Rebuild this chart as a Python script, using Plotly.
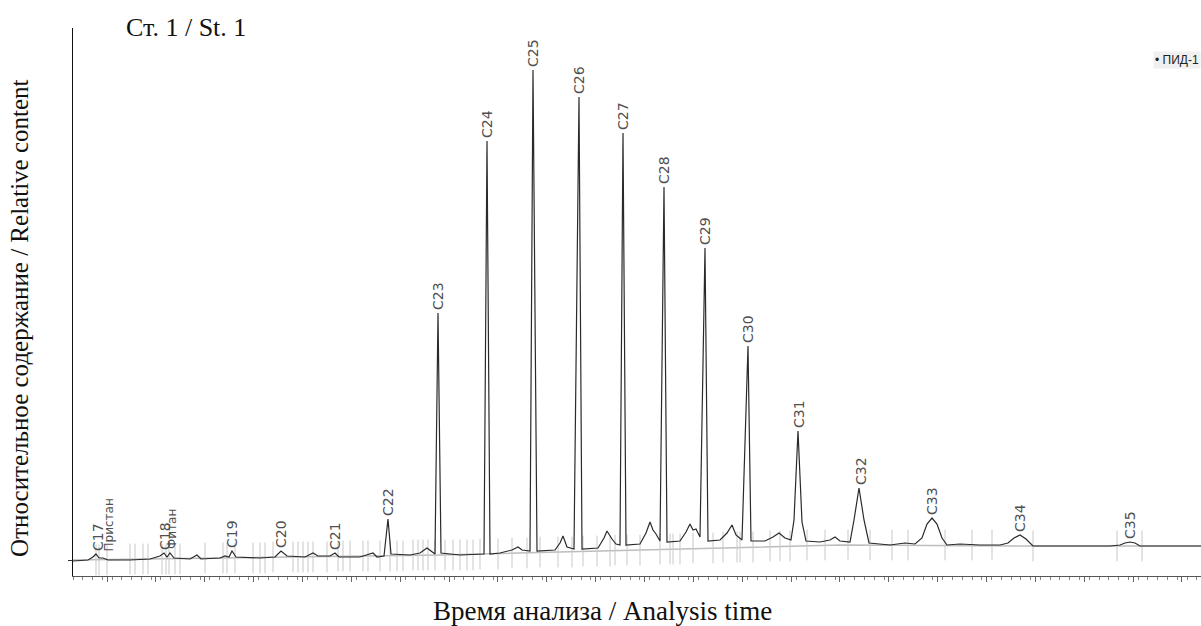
import plotly.graph_objects as go

# ---- chromatogram signal (time units, relative signal) ----
trace_t = [0, 15, 20, 23, 26, 30, 35, 57, 77, 87, 91, 94, 97, 101, 117, 124, 128, 147, 152, 156,
           159, 163, 187, 202, 208, 214, 232, 240, 245, 257, 262, 266, 287, 295, 300, 304, 311, 315,
           318, 337, 347, 354, 359, 362, 365, 368, 387, 402, 411, 414, 417, 427, 439, 445, 449, 457,
           460, 464, 482, 487, 490, 494, 501, 506, 509, 525, 531, 534, 537, 539, 543, 547, 550, 553,
           567, 573, 577, 580, 583, 587, 591, 594, 607, 613, 617, 620, 623, 627, 632, 635, 647, 654,
           659, 663, 669, 675, 678, 692, 700, 706, 712, 718, 721, 725, 729, 733, 747, 757, 762, 767,
           777, 781, 786, 791, 796, 817, 832, 842, 849, 854, 859, 864, 869, 874, 887, 907, 927, 935,
           941, 947, 953, 960, 1037, 1047, 1052, 1057, 1062, 1067, 1128]
trace_s = [15, 16, 19, 22, 18, 18, 16, 16, 17, 20, 23, 19, 23, 18, 17, 21, 17, 18, 20, 19,
           25, 19, 18, 19, 25, 20, 19, 23, 20, 20, 23, 19, 19, 21, 23, 19, 20, 57,
           22, 21, 23, 28, 24, 22, 263, 23, 21, 22, 22, 435, 22, 23, 26, 29, 26, 25,
           506, 25, 26, 33, 40, 29, 27, 479, 27, 28, 38, 45, 40, 37, 32, 31, 443, 31,
           32, 43, 54, 46, 42, 35, 389, 34, 35, 44, 52, 46, 47, 39, 328, 35, 36, 43,
           51, 41, 36, 230, 35, 35, 39, 43, 38, 36, 56, 145, 54, 35, 34, 36, 39, 35,
           34, 56, 88, 56, 33, 31, 33, 32, 38, 52, 58, 52, 38, 31, 32, 31, 31, 33,
           38, 41, 37, 30, 30, 31, 33, 34, 33, 30, 30]

# integration baseline
base_t = [0, 367, 767, 960, 1128]
base_s = [16, 21, 31, 30, 30]

# peak-integration event marks
event_t = [23, 26, 34, 57, 62, 70, 75, 89, 93, 96, 102, 107, 132, 150, 154, 162, 180, 187, 192, 200,
           220, 225, 230, 235, 240, 254, 265, 270, 277, 290, 295, 307, 317, 324, 330, 340, 345, 350,
           355, 362, 372, 380, 387, 394, 400, 407, 425, 439, 454, 467, 485, 499, 510, 524, 537, 542,
           554, 567, 587, 597, 600, 607, 620, 640, 650, 664, 667, 680, 697, 707, 717, 734, 752, 775,
           797, 819, 835, 872, 899, 919, 960, 1044, 1069]
event_s = [16, 16, 16, 17, 17, 17, 17, 17, 17, 17, 17, 17, 18, 18, 18, 18, 18, 18, 18, 19,
           19, 19, 19, 19, 19, 19, 20, 20, 20, 20, 20, 20, 20, 20, 20, 21, 21, 21,
           21, 21, 21, 21, 21, 21, 21, 22, 22, 23, 23, 24, 24, 24, 25, 25, 25, 26,
           26, 26, 27, 27, 27, 27, 28, 28, 29, 29, 29, 29, 30, 30, 30, 31, 31, 31,
           31, 31, 31, 31, 31, 31, 30, 30, 30]

# peak identification labels
label_names = ["C17", "Пристан", "C18", "Фитан", "C19", "C20", "C21", "C22", "C23", "C24", "C25",
               "C26", "C27", "C28", "C29", "C30", "C31", "C32", "C33", "C34", "C35"]
label_t = [25, 35, 92, 99, 159, 208, 262, 315, 365, 414, 460, 506, 550, 591, 632, 675, 726, 788,
           859, 947, 1057]
label_s = [22, 20, 23, 23, 25, 25, 23, 57, 263, 435, 506, 479, 443, 389, 328, 230, 145, 88, 58,
           41, 34]

fig = go.Figure()
fig.add_trace(go.Scatter(x=base_t, y=base_s, mode="lines",
                         line=dict(color="#bdbdbd", width=1.5), hoverinfo="skip", showlegend=False))
fig.add_trace(go.Scatter(x=event_t, y=event_s, mode="markers",
                         marker=dict(symbol="line-ns", size=22, line=dict(color="#c8c8c8", width=1)),
                         hoverinfo="skip", showlegend=False))
fig.add_trace(go.Scatter(x=trace_t, y=trace_s, mode="lines", name="ПИД-1",
                         line=dict(color="#2a2a2a", width=1.2), showlegend=False))

for name, t, s in zip(label_names, label_t, label_s):
    small = name in ("Пристан", "Фитан")
    fig.add_annotation(x=t, y=s, text=name, textangle=-90, showarrow=False,
                       xanchor="center", yanchor="bottom", yshift=2 if small else 1,
                       font=dict(family="DejaVu Sans", size=12 if small else 14, color="#505050"))

serif = "Liberation Serif, Times New Roman, serif"
fig.add_annotation(xref="paper", yref="paper", x=0.1, y=1.0, text="Ст. 1 / St. 1",
                   showarrow=False, xanchor="center", yanchor="middle", yshift=1,
                   font=dict(family=serif, size=26, color="#111"))
fig.add_annotation(xref="paper", yref="paper", x=-0.047, y=0.471,
                   text="Относительное содержание / Relative content", textangle=-90,
                   showarrow=False, xanchor="center", yanchor="middle",
                   font=dict(family=serif, size=25, color="#111"))
fig.add_annotation(xref="paper", yref="paper", x=0.469, y=-0.064,
                   text="Время анализа / Analysis time",
                   showarrow=False, xanchor="center", yanchor="middle",
                   font=dict(family=serif, size=27, color="#111"))
fig.add_annotation(xref="paper", yref="paper", x=1.0, y=0.942, text="• ПИД-1",
                   showarrow=False, xanchor="right", yanchor="middle", bgcolor="#f0f0f0",
                   font=dict(family="Liberation Sans Narrow, Arial Narrow, Liberation Sans, sans-serif",
                             size=12, color="#222"))

fig.update_layout(
    width=1201, height=626,
    margin=dict(l=73, r=0, t=28, b=50),
    paper_bgcolor="white", plot_bgcolor="white",
    showlegend=False,
    xaxis=dict(range=[0, 1128], showline=True, linecolor="#555", linewidth=1,
               ticks="outside", tick0=34, dtick=48.86, ticklen=5, tickcolor="#666",
               minor=dict(ticks="outside", dtick=9.772, ticklen=3, tickcolor="#888", showgrid=False),
               showticklabels=False, showgrid=False, zeroline=False),
    yaxis=dict(range=[0, 548], showline=True, linecolor="#111", linewidth=1,
               ticks="outside", tickvals=[16], ticklen=4, tickcolor="#333",
               showticklabels=False, showgrid=False, zeroline=False),
)

fig.write_html("out.html", config={"displayModeBar": False},
               post_script="document.body.style.margin='0px';document.body.style.overflow='hidden';")
